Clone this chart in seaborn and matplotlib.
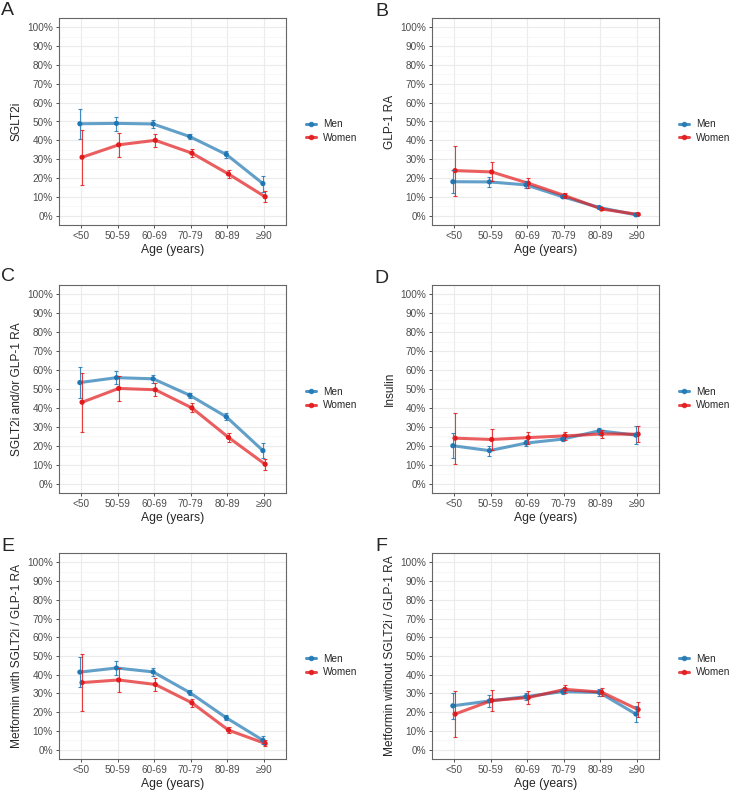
import numpy as np
import pandas as pd
import seaborn as sns
import matplotlib.pyplot as plt
from matplotlib.lines import Line2D
from matplotlib.ticker import MultipleLocator, FuncFormatter

# Age groups and sexes
ages = ['<50', '50-59', '60-69', '70-79', '80-89', '≥90']
sexes = ['Men', 'Women']
colors = {'Men': '#1F78B4', 'Women': '#E31A1C'}

# A: SGLT2i (estimate, lower CI, upper CI in %)
a_men = [48.8, 49.0, 48.7, 42.0, 32.5, 17.0]
a_men_lo = [40.7, 45.2, 46.7, 40.8, 30.8, 12.8]
a_men_hi = [56.7, 52.4, 50.8, 43.2, 34.3, 21.1]
a_women = [31.0, 37.6, 40.0, 33.2, 22.1, 10.0]
a_women_lo = [16.4, 31.2, 36.5, 31.0, 20.0, 7.0]
a_women_hi = [45.4, 44.0, 43.6, 35.4, 24.2, 13.0]

# B: GLP-1 RA
b_men = [18.0, 17.9, 16.3, 10.0, 4.3, 0.4]
b_men_lo = [11.8, 15.3, 14.4, 9.2, 3.7, 0.0]
b_men_hi = [24.1, 20.6, 18.3, 10.9, 4.9, 0.9]
b_women = [23.9, 23.2, 17.2, 10.6, 3.5, 0.6]
b_women_lo = [10.5, 18.2, 14.6, 9.5, 2.8, 0.1]
b_women_hi = [37.2, 28.6, 19.8, 11.9, 4.2, 1.2]

# C: SGLT2i and/or GLP-1 RA
c_men = [53.4, 56.0, 55.4, 46.7, 35.3, 17.4]
c_men_lo = [45.4, 52.5, 53.4, 45.4, 33.5, 13.3]
c_men_hi = [61.6, 59.5, 57.3, 48.0, 37.1, 21.5]
c_women = [43.0, 50.3, 49.6, 40.0, 24.4, 10.2]
c_women_lo = [27.5, 43.8, 46.1, 37.7, 22.2, 7.2]
c_women_hi = [58.5, 56.8, 53.2, 42.4, 26.6, 13.2]

# D: Insulin
d_men = [20.0, 17.4, 21.4, 23.5, 27.9, 25.6]
d_men_lo = [13.6, 14.7, 19.6, 22.3, 26.2, 20.8]
d_men_hi = [26.5, 20.0, 23.2, 24.7, 29.6, 30.3]
d_women = [24.0, 23.3, 24.3, 25.2, 26.2, 26.1]
d_women_lo = [10.5, 18.0, 21.1, 23.1, 24.0, 21.8]
d_women_hi = [37.3, 28.6, 27.5, 27.4, 28.3, 30.4]

# E: Metformin with SGLT2i / GLP-1 RA
e_men = [41.4, 43.6, 41.5, 30.5, 17.0, 5.0]
e_men_lo = [33.4, 40.1, 39.4, 29.2, 15.6, 2.8]
e_men_hi = [49.4, 47.2, 43.5, 31.8, 18.5, 7.3]
e_women = [35.8, 37.2, 34.8, 25.0, 10.4, 3.3]
e_women_lo = [20.6, 30.8, 31.5, 22.9, 8.9, 1.8]
e_women_hi = [51.0, 43.5, 38.2, 27.3, 12.0, 5.0]

# F: Metformin without SGLT2i / GLP-1 RA
f_men = [23.4, 26.0, 28.3, 31.0, 30.5, 19.0]
f_men_lo = [16.5, 22.8, 26.3, 29.7, 28.8, 14.7]
f_men_hi = [30.2, 29.2, 30.3, 32.4, 32.3, 23.2]
f_women = [19.0, 26.2, 27.8, 32.2, 30.7, 21.4]
f_women_lo = [6.7, 20.6, 24.6, 30.0, 28.5, 17.3]
f_women_hi = [31.4, 31.9, 31.1, 34.4, 32.9, 25.4]

panels = [
    ('A', 'SGLT2i', (a_men, a_men_lo, a_men_hi), (a_women, a_women_lo, a_women_hi)),
    ('B', 'GLP-1 RA', (b_men, b_men_lo, b_men_hi), (b_women, b_women_lo, b_women_hi)),
    ('C', 'SGLT2i and/or GLP-1 RA', (c_men, c_men_lo, c_men_hi), (c_women, c_women_lo, c_women_hi)),
    ('D', 'Insulin', (d_men, d_men_lo, d_men_hi), (d_women, d_women_lo, d_women_hi)),
    ('E', 'Metformin with SGLT2i / GLP-1 RA', (e_men, e_men_lo, e_men_hi), (e_women, e_women_lo, e_women_hi)),
    ('F', 'Metformin without SGLT2i / GLP-1 RA', (f_men, f_men_lo, f_men_hi), (f_women, f_women_lo, f_women_hi)),
]

sns.set_theme(style='white')
plt.rcParams['font.family'] = ['Liberation Sans', 'DejaVu Sans']

W, H = 732, 790
fig = plt.figure(figsize=(W / 100, H / 100), dpi=100)

# axes boxes in pixels: left, top, right, bottom
boxes = [(59, 18, 286, 225), (432, 18, 659, 225),
         (59, 285, 286, 493), (432, 285, 659, 493),
         (59, 553, 286, 759), (432, 553, 659, 759)]
letter_pos = [(1, 15), (375, 16), (1, 281), (374, 283), (1, 551), (375, 551)]
dodge = {'Men': -0.03, 'Women': 0.03}

for (letter, ylabel, men, women), (l, t, r, b), (lx, ly) in zip(panels, boxes, letter_pos):
    ax = fig.add_axes([l / W, 1 - b / H, (r - l) / W, (b - t) / H])

    rows = []
    for sex, vals in zip(sexes, [men, women]):
        est, lo, hi = vals
        for i, age in enumerate(ages):
            rows.append({'age': age, 'sex': sex, 'x': i + dodge[sex],
                         'pct': est[i], 'lo': lo[i], 'hi': hi[i]})
    df = pd.DataFrame(rows)

    sns.lineplot(data=df, x='x', y='pct', hue='sex', hue_order=sexes, palette=colors,
                 lw=2.2, alpha=0.7, legend=False, ax=ax, zorder=3)
    sns.scatterplot(data=df, x='x', y='pct', hue='sex', hue_order=sexes, palette=colors,
                    s=14, linewidth=0, legend=False, ax=ax, zorder=4)
    for sex in sexes:
        d = df[df['sex'] == sex]
        ax.errorbar(d['x'], d['pct'], yerr=[d['pct'] - d['lo'], d['hi'] - d['pct']],
                    fmt='none', ecolor=colors[sex], elinewidth=0.8, capsize=1.6,
                    capthick=0.8, alpha=0.85, zorder=5)

    ax.set_xlim(-0.6, 5.6)
    ax.set_ylim(-5, 105)
    ax.set_xticks(range(len(ages)))
    ax.set_xticklabels(ages)
    ax.set_yticks(np.arange(0, 101, 10))
    ax.yaxis.set_minor_locator(MultipleLocator(5))
    ax.yaxis.set_major_formatter(FuncFormatter(lambda v, p: f'{v:.0f}%'))
    ax.grid(which='major', color='#EBEBEB', lw=0.8)
    ax.grid(which='minor', axis='y', color='#F4F4F4', lw=0.5)
    ax.set_axisbelow(True)
    ax.tick_params(which='major', length=2.5, width=0.6, color='#333333',
                   labelsize=7.2, labelcolor='#4D4D4D', pad=2, left=True, bottom=True)
    ax.tick_params(which='minor', length=0)
    for sp in ax.spines.values():
        sp.set_color('#666666')
        sp.set_linewidth(0.8)
    ax.set_xlabel('Age (years)', fontsize=8.7, labelpad=2)
    ax.set_ylabel(ylabel, fontsize=8.6, labelpad=3)

    handles = [Line2D([], [], color=colors[s], lw=2.2, alpha=0.8, marker='o', ms=3)
               for s in sexes]
    ax.legend(handles, sexes, loc='center left', bbox_to_anchor=(1.088, 0.455),
              frameon=False, fontsize=7.2, handlelength=1.0, handletextpad=0.7,
              labelspacing=0.35, borderaxespad=0, borderpad=0)

    fig.text(lx / W, 1 - ly / H, letter, fontsize=14, va='baseline', ha='left')

plt.savefig('out.png', dpi=100)
